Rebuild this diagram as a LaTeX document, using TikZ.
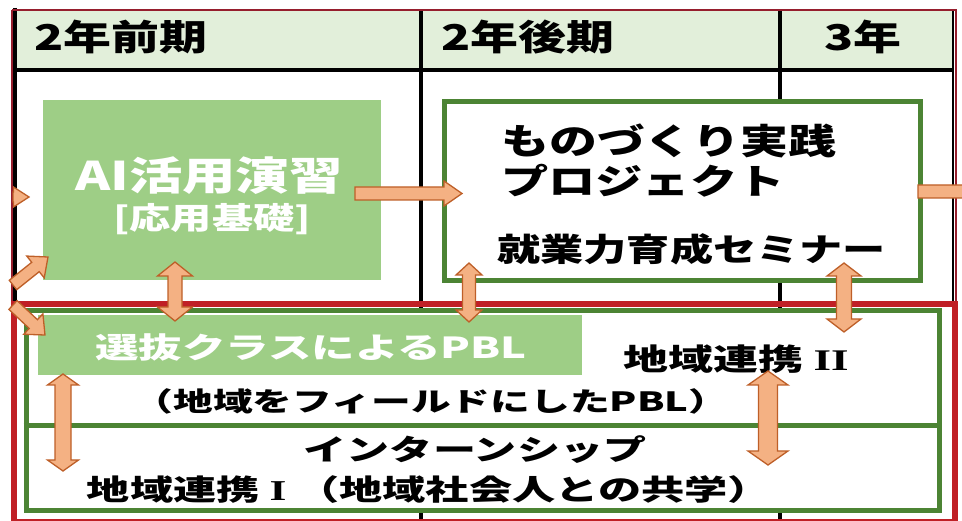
\documentclass[tikz,border=0pt]{standalone}
\usepackage{fontspec}
\usetikzlibrary{calc}
\newfontfamily\jp{Noto Sans CJK JP}[FakeStretch=1.35]
\newfontfamily\jpw{Noto Sans CJK JP}[FakeStretch=1.5]
\newfontfamily\romf{Liberation Serif}[FakeStretch=1.5]
\definecolor{hdr}{RGB}{226,239,218}
\definecolor{lgreen}{RGB}{158,206,134}
\definecolor{dgreen}{RGB}{76,132,52}
\definecolor{bred}{RGB}{192,32,38}
\definecolor{framec}{RGB}{150,30,45}
\definecolor{afill}{RGB}{244,177,131}
\definecolor{aedge}{RGB}{190,95,40}
\tikzset{
  fat/.style={fill=afill, draw=aedge, line width=1.3pt, line join=miter},
  grid/.style={line width=4pt, black},
  txt/.style={inner sep=0pt, font=\jp\bfseries},
  aibox/.style={fill=lgreen, draw=none, inner sep=0pt},
  gbox/.style={fill=white, draw=dgreen, line width=5pt, inner sep=0pt},
  rbox/.style={draw=bred, line width=6pt, inner sep=0pt},
}
\newcommand\getdir[2]{%
  \path let \p1=($(#2)-(#1)$) in
    \pgfextra{\pgfmathsetmacro\tmpang{atan2(\y1,\x1)}\pgfmathsetmacro\tmplen{veclen(\x1,\y1)}%
      \xdef\faang{\tmpang}\xdef\falen{\tmplen}};}
% single arrow: #1 from, #2 to, #3 shaft half width, #4 head half width, #5 head length
\newcommand\fsarrow[5]{%
  \getdir{#1}{#2}%
  \begin{scope}[shift={(#1)},rotate=\faang]
    \draw[fat] (0pt,#3pt) -- (\falen pt-#5pt,#3pt) -- (\falen pt-#5pt,#4pt) -- (\falen pt,0pt)
      -- (\falen pt-#5pt,-#4pt) -- (\falen pt-#5pt,-#3pt) -- (0pt,-#3pt) -- cycle;
  \end{scope}}
\newcommand\fdarrow[5]{%
  \getdir{#1}{#2}%
  \begin{scope}[shift={(#1)},rotate=\faang]
    \draw[fat] (0pt,0pt) -- (#5pt,#4pt) -- (#5pt,#3pt) -- (\falen pt-#5pt,#3pt) -- (\falen pt-#5pt,#4pt) -- (\falen pt,0pt)
      -- (\falen pt-#5pt,-#4pt) -- (\falen pt-#5pt,-#3pt) -- (#5pt,-#3pt) -- (#5pt,-#4pt) -- cycle;
  \end{scope}}
\begin{document}
\begin{tikzpicture}[x=1pt,y=-1pt]
\useasboundingbox (0,0) rectangle (962,521);
\clip (0,0) rectangle (962,521);
% header and grid
\fill[hdr] (15,10) rectangle (953,70);
\draw[grid] (15,8) -- (15,523);
\draw[grid] (15,70) -- (953,70);
\draw[grid] (421,10) -- (421,523);
\draw[grid] (780,10) -- (780,523);
\draw[black, line width=2pt] (953,10) -- (953,523);
\draw[framec, line width=1.5pt] (12,10) -- (956,10) -- (956,523);
\draw[framec, line width=1.5pt] (12,10) -- (12,523);
\node[txt, font=\jp\bfseries\fontsize{35.5}{38}\selectfont, anchor=west] (h1) at (34,37) {2年前期};
\node[txt, font=\jp\bfseries\fontsize{35.5}{38}\selectfont, anchor=west] (h2) at (441,37) {2年後期};
\node[txt, font=\jp\bfseries\fontsize{35.5}{38}\selectfont] (h3) at (863,37) {3年};
% upper boxes
\node[aibox, minimum width=338pt, minimum height=180pt, anchor=north west] (ai) at (43,100) {};
\node[gbox, minimum width=476.5pt, minimum height=179.5pt, anchor=north west] (mono) at (441.5,99) {};
\node[txt, white, font=\jp\bfseries\fontsize{39.5}{42}\selectfont] (ait) at (209,176) {AI活用演習};
\node[txt, white, font=\jp\bfseries\fontsize{30.5}{33}\selectfont] (ait2) at (212,219) {[応用基礎]};
\node[txt, font=\jp\bfseries\fontsize{35.5}{38}\selectfont, anchor=west] (m1) at (501,141) {ものづくり実践};
\node[txt, font=\jp\bfseries\fontsize{35}{38}\selectfont, anchor=west] (m2) at (501,181) {プロジェクト};
\node[txt, font=\jp\bfseries\fontsize{32}{34}\selectfont, anchor=west] (m3) at (497,249) {就業力育成セミナー};
% lower boxes
\node[gbox, minimum width=913.5pt, minimum height=200pt, anchor=north west] (reg) at (23.5,308) {};
\draw[dgreen, line width=5pt] (reg.west |- 0,426) coordinate (dl) -- (reg.east |- 0,426) coordinate (dr);
\node[aibox, minimum width=544pt, minimum height=60pt, anchor=north west] (pbl) at (38,315) {};
\node[rbox, minimum width=941.5pt, minimum height=217pt, anchor=north west] (red) at (10.5,301.5) {};
\node[txt, white, font=\jpw\bfseries\fontsize{29}{32}\selectfont] (pblt) at (311,347) {選抜クラスによるPBL};
\node[txt, font=\jpw\bfseries\fontsize{30}{33}\selectfont] (r2) at (736,359) {地域連携 {\romf\bfseries II}};
\node[txt, font=\jpw\bfseries\fontsize{26.5}{30}\selectfont] (fld) at (431,401) {（地域をフィールドにしたPBL）};
\node[txt, font=\jpw\bfseries\fontsize{28.7}{32}\selectfont] (int) at (475,450) {インターンシップ};
\node[txt, font=\jpw\bfseries\fontsize{28.8}{32}\selectfont] (r1) at (429,490) {地域連携 {\romf\bfseries I} （地域社会人との共学）};
% arrow end points
\coordinate (a1s) at (355,193.5); \coordinate (a1e) at (462,193.5);
\coordinate (a2s) at (918,191.5); \coordinate (a2e) at (990,191.5);
\coordinate (a3s) at (13,197);    \coordinate (a3e) at (29,197);
\coordinate (a4s) at (13,285);    \coordinate (a4e) at (48,257);
\coordinate (a5s) at (13,305);    \coordinate (a5e) at (45,335);
\coordinate (d1s) at (175,262);   \coordinate (d1e) at (175,321);
\coordinate (d2s) at (469,263);   \coordinate (d2e) at (469,322);
\coordinate (d3s) at (844,263);   \coordinate (d3e) at (844,332);
\coordinate (d4s) at (63,374);    \coordinate (d4e) at (63,471);
\coordinate (d5s) at (768,371);   \coordinate (d5e) at (768,465);
\fsarrow{a1s}{a1e}{6.5}{12.5}{18}
\fsarrow{a2s}{a2e}{6.5}{12.5}{18}
\fsarrow{a3s}{a3e}{5}{10}{15.5}
\fsarrow{a4s}{a4e}{6}{14}{16}
\fsarrow{a5s}{a5e}{6}{14}{16}
\fdarrow{d1s}{d1e}{7}{17.5}{14}
\fdarrow{d2s}{d2e}{6.5}{13}{12}
\fdarrow{d3s}{d3e}{7.5}{17}{13}
\fdarrow{d4s}{d4e}{8}{15.5}{11}
\fdarrow{d5s}{d5e}{9.5}{20}{14}
\end{tikzpicture}
\end{document}
